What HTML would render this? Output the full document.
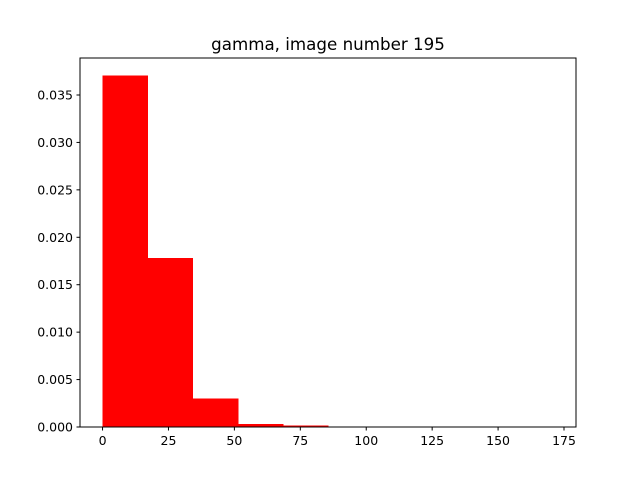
<!DOCTYPE html>
<html><head><meta charset="utf-8"><style>
body{margin:0;background:#fff;font-family:"DejaVu Sans","Liberation Sans",sans-serif;}
</style></head><body>
<svg id="chart" width="640" height="480" xmlns="http://www.w3.org/2000/svg"></svg>
<script>
const binEdges=[0,17.1,34.2,51.3,68.4,85.5,102.6,119.7,136.8,153.9,171];
const densities=[0.03705,0.0178,0.0030,0.00032,0.00015,0.00001,0.000005,0,0,0.000005];
const xTicks=[0,25,50,75,100,125,150,175];
const yTicks=[0,0.005,0.010,0.015,0.020,0.025,0.030,0.035];
const yTickLabels=["0.000","0.005","0.010","0.015","0.020","0.025","0.030","0.035"];
const L=80,R=576,T=58,B=427;
const xmin=-8.55,xmax=179.55,ymax=0.0389;
const sx=v=>L+(v-xmin)/(xmax-xmin)*(R-L);
const sy=v=>B-v/ymax*(B-T);
const svg=document.getElementById('chart');
const NS='http://www.w3.org/2000/svg';
function mk(t,a,p){const e=document.createElementNS(NS,t);for(const k in a)e.setAttribute(k,a[k]);(p||svg).appendChild(e);return e;}
const bars=mk('g',{'shape-rendering':'crispEdges'});


densities.forEach((d,i)=>{
 const x0=sx(binEdges[i]),x1=sx(binEdges[i+1]);
 const r=mk('rect',{x:x0,y:sy(d),width:x1-x0+0.5,height:B-sy(d),fill:'#ff0000'},bars);
 
 
});
const frame=mk('rect',{x:L,y:T,width:R-L,height:B-T,fill:'none',stroke:'#000','stroke-width':1});


xTicks.forEach(v=>{
 const x=sx(v);
 mk('line',{x1:x,x2:x,y1:B,y2:B+3.5,stroke:'#000'});
 const t=mk('text',{x:x,y:B+18,'text-anchor':'middle','font-size':12.5});
 t.textContent=v;
 
 
});
yTicks.forEach((v,i)=>{
 const y=sy(v);
 mk('line',{x1:L-3.5,x2:L,y1:y,y2:y,stroke:'#000'});
 const t=mk('text',{x:L-7,y:y+4.5,'text-anchor':'end','font-size':12.5});
 t.textContent=yTickLabels[i];
 
 
});
const title=mk('text',{x:(L+R)/2,y:50,'text-anchor':'middle','font-size':16.7});
title.textContent='gamma, image number 195';


</script>
</body></html>
